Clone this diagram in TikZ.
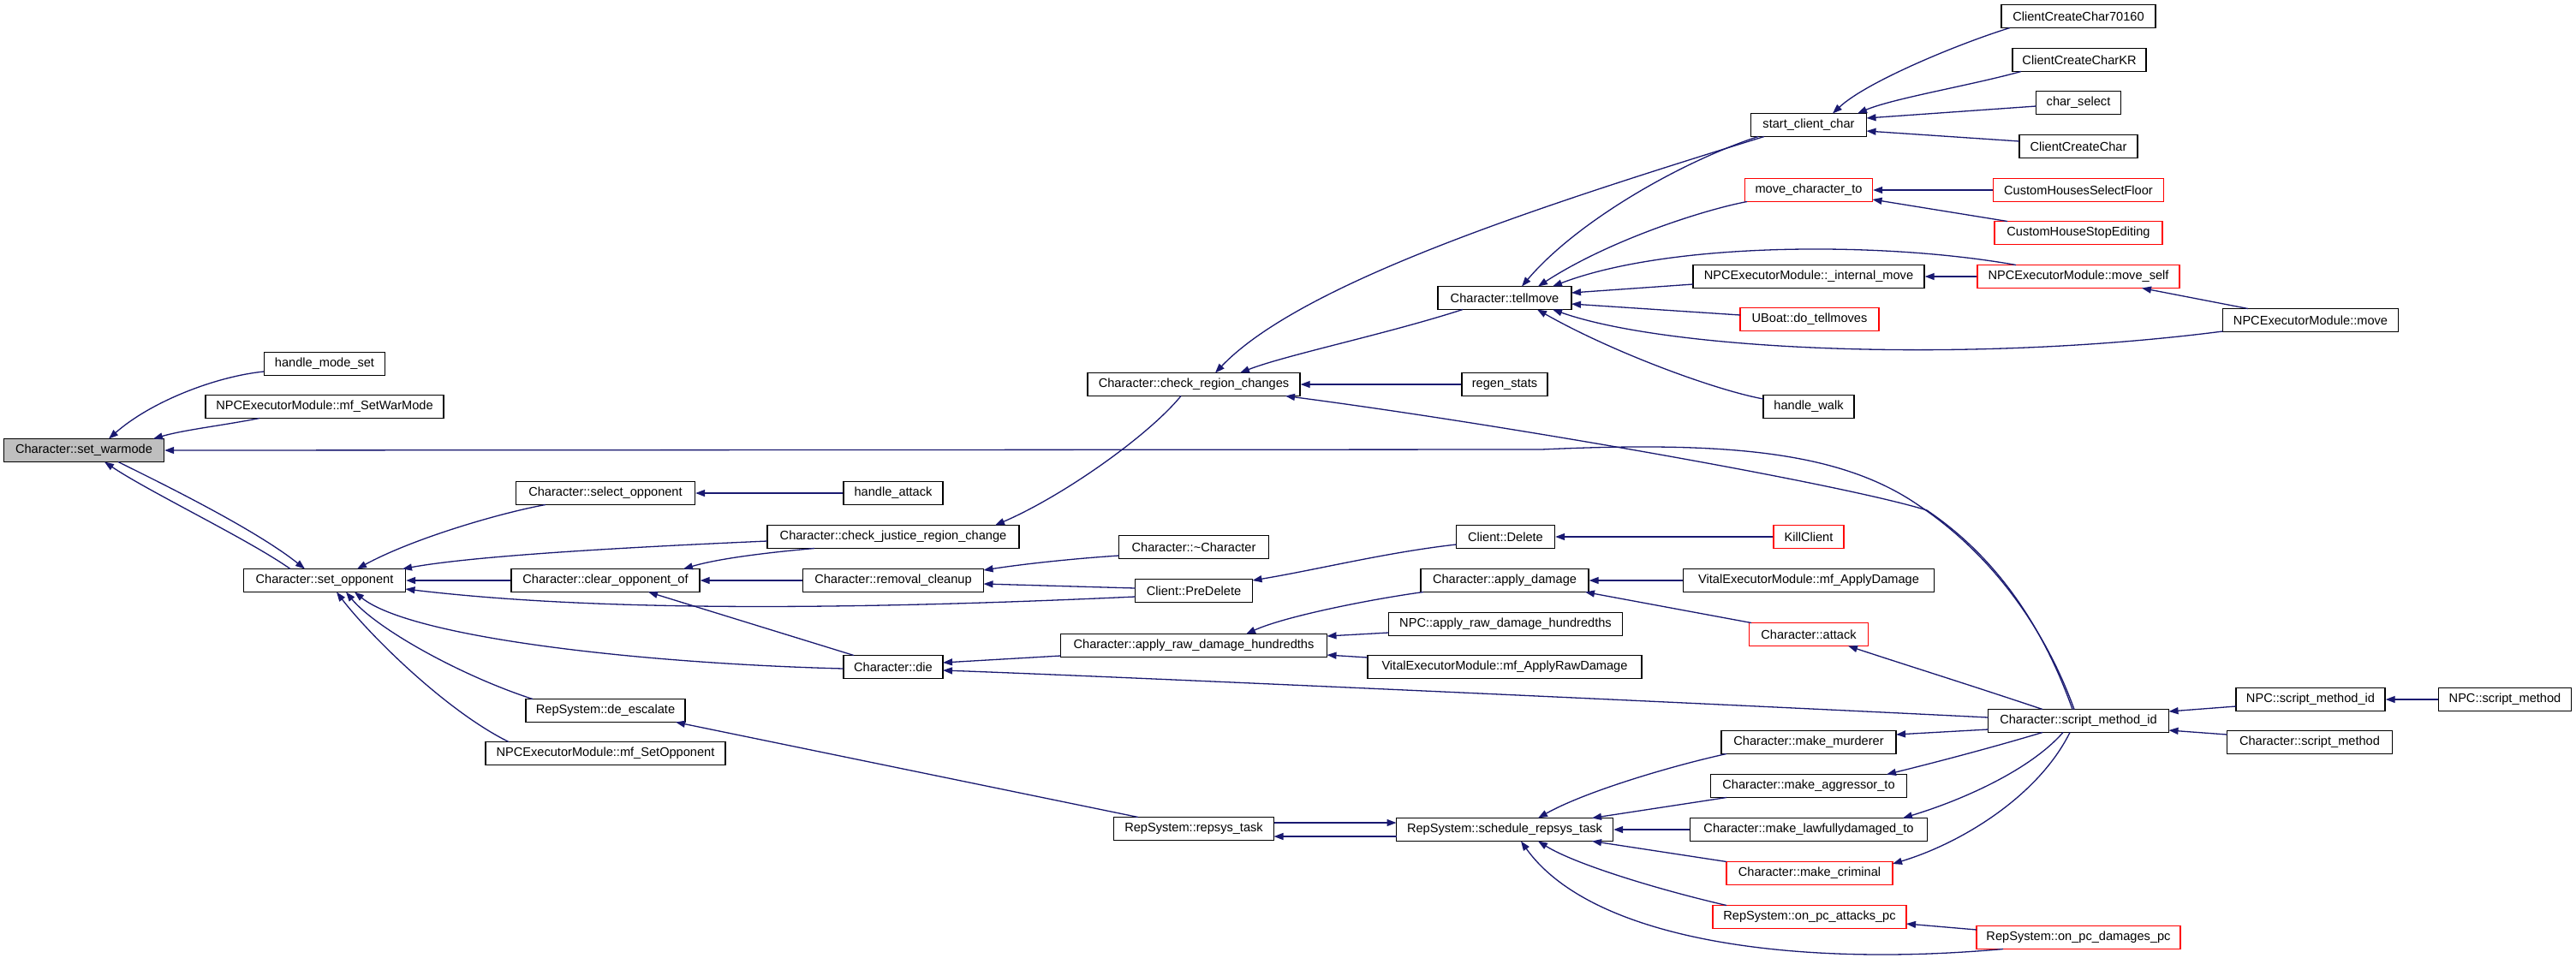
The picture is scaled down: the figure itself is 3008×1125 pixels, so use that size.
\documentclass[tikz,border=0pt]{standalone}
\usepackage{fontspec}
\setmainfont{Liberation Sans}
\usetikzlibrary{calc,arrows.meta}
\definecolor{edgeblue}{HTML}{191970}
\definecolor{selgray}{HTML}{BFBFBF}
\tikzset{
  box/.style={draw=black, line width=1.3pt, minimum height=27pt, inner sep=0pt, font=\fontsize{14.6}{17}\selectfont},
  redbox/.style={box, draw=red},
  call/.style={draw=edgeblue, line width=1.3pt, -{Triangle[length=11pt,width=8pt]}}
}
\begin{document}
\begin{tikzpicture}[x=1pt,y=-1pt]
\fill[white] (0,0) rectangle (3008,1125);
\useasboundingbox (0,0) rectangle (3008,1125);
% nodes
\node[box,fill=selgray,minimum width=187pt] (sw) at (98,526) {Character::set\_warmode};
\node[box,minimum width=141pt] (hms) at (379,425) {handle\_mode\_set};
\node[box,minimum width=278pt] (swm) at (379,475) {NPCExecutorModule::mf\_SetWarMode};
\node[box,minimum width=189pt] (so) at (379,678) {Character::set\_opponent};
\node[box,minimum width=209pt] (sel) at (707,576) {Character::select\_opponent};
\node[box,minimum width=220pt] (clr) at (707,678) {Character::clear\_opponent\_of};
\node[box,minimum width=186pt] (dee) at (707,830) {RepSystem::de\_escalate};
\node[box,minimum width=280pt] (mso) at (707,880) {NPCExecutorModule::mf\_SetOpponent};
\node[box,minimum width=116pt] (ha) at (1043,576) {handle\_attack};
\node[box,minimum width=294pt] (cjr) at (1043,627) {Character::check\_justice\_region\_change};
\node[box,minimum width=211pt] (rc) at (1043,678) {Character::removal\_cleanup};
\node[box,minimum width=116pt] (die) at (1043,779) {Character::die};
\node[box,minimum width=248pt] (crc) at (1394,449) {Character::check\_region\_changes};
\node[box,minimum width=175pt] (dtor) at (1394,639) {Character::\textasciitilde Character};
\node[box,minimum width=137pt] (pd) at (1394,690) {Client::PreDelete};
\node[box,minimum width=311pt] (ard) at (1394,754) {Character::apply\_raw\_damage\_hundredths};
\node[box,minimum width=187pt] (rt) at (1394,968) {RepSystem::repsys\_task};
\node[box,minimum width=156pt] (tm) at (1757,348) {Character::tellmove};
\node[box,minimum width=100pt] (rs) at (1757,449) {regen\_stats};
\node[box,minimum width=115pt] (cd) at (1758,627) {Client::Delete};
\node[box,minimum width=196pt] (ad) at (1757,678) {Character::apply\_damage};
\node[box,minimum width=273pt] (nard) at (1758,729) {NPC::apply\_raw\_damage\_hundredths};
\node[box,minimum width=320pt] (mard) at (1757,779) {VitalExecutorModule::mf\_ApplyRawDamage};
\node[box,minimum width=253pt] (srt) at (1757,969) {RepSystem::schedule\_repsys\_task};
\node[box,minimum width=135pt] (scc) at (2112,146) {start\_client\_char};
\node[redbox,minimum width=149pt] (mct) at (2112,222) {move\_character\_to};
\node[box,minimum width=270pt] (im) at (2112,323) {NPCExecutorModule::\_internal\_move};
\node[redbox,minimum width=162pt] (ub) at (2113,373) {UBoat::do\_tellmoves};
\node[box,minimum width=106pt] (hw) at (2112,475) {handle\_walk};
\node[redbox,minimum width=82pt] (kc) at (2112,627) {KillClient};
\node[box,minimum width=293pt] (mad) at (2112,678) {VitalExecutorModule::mf\_ApplyDamage};
\node[redbox,minimum width=139pt] (att) at (2112,741) {Character::attack};
\node[box,minimum width=204pt] (mm) at (2112,867) {Character::make\_murderer};
\node[box,minimum width=229pt] (mat) at (2112,918) {Character::make\_aggressor\_to};
\node[box,minimum width=277pt] (mlt) at (2112,969) {Character::make\_lawfullydamaged\_to};
\node[redbox,minimum width=194pt] (mc) at (2113,1020) {Character::make\_criminal};
\node[redbox,minimum width=226pt] (opa) at (2113,1071) {RepSystem::on\_pc\_attacks\_pc};
\node[box,minimum width=180pt] (c70) at (2427,19) {ClientCreateChar70160};
\node[box,minimum width=156pt] (ckr) at (2428,70) {ClientCreateCharKR};
\node[box,minimum width=99pt] (cs) at (2427,120) {char\_select};
\node[box,minimum width=138pt] (cc) at (2427,171) {ClientCreateChar};
\node[redbox,minimum width=199pt] (chsf) at (2427,222) {CustomHousesSelectFloor};
\node[redbox,minimum width=196pt] (chse) at (2427,272) {CustomHouseStopEditing};
\node[redbox,minimum width=236pt] (ms) at (2427,323) {NPCExecutorModule::move\_self};
\node[box,minimum width=211pt] (smi) at (2427,842) {Character::script\_method\_id};
\node[redbox,minimum width=238pt] (opd) at (2427,1095) {RepSystem::on\_pc\_damages\_pc};
\node[box,minimum width=205pt] (nm) at (2698,374) {NPCExecutorModule::move};
\node[box,minimum width=174pt] (nsmi) at (2698,817) {NPC::script\_method\_id};
\node[box,minimum width=193pt] (csm) at (2697,867) {Character::script\_method};
\node[box,minimum width=155pt] (nsm) at (2925,817) {NPC::script\_method};
% edges (caller -> callee)
\draw[call] ($(hms.center)+(-71,9)$) .. controls (250,440) and (175,470) .. ($(sw.center)+(29,-13.5)$);
\draw[call] ($(swm.center)+(-76,13.5)$) .. controls (260,497) and (215,502) .. ($(sw.center)+(81,-13.5)$);
\draw[call] ($(smi.center)+(-5,-13.5)$) .. controls (2390,740) and (2330,650) .. (2240,590) .. controls (2150,528) and (2020,515) .. (1800,525) -- (sw.east);
\draw[call] ($(smi.center)+(-7,-13.5)$) .. controls (2385,730) and (2330,650) .. (2250,596) .. controls (2150,565) and (1750,495) .. ($(crc.center)+(107,13.5)$);
\draw[call] ($(so.center)+(-40,-13.5)$) .. controls (290,630) and (175,575) .. ($(sw.center)+(24,13.5)$);
\draw[call] ($(sw.center)+(40,13.5)$) .. controls (200,570) and (300,620) .. ($(so.center)+(-23,-13.5)$);
\draw[call] ($(sel.center)+(-70,13.5)$) .. controls (580,600) and (480,630) .. ($(so.center)+(38,-13.5)$);
\draw[call] ($(cjr.center)+(-147,5)$) .. controls (760,638) and (560,648) .. ($(so.center)+(91,-13.5)$);
\draw[call] (clr.west) -- (so.east);
\draw[call] ($(pd.center)+(-68.5,7)$) .. controls (1000,712) and (700,715) .. ($(so.center)+(94.5,10)$);
\draw[call] ($(die.center)+(-58,2)$) .. controls (750,775) and (480,745) .. ($(so.center)+(35,13.5)$);
\draw[call] ($(dee.center)+(-85,-13.5)$) .. controls (540,790) and (440,735) .. ($(so.center)+(25,13.5)$);
\draw[call] ($(mso.center)+(-113,-13.5)$) .. controls (520,830) and (430,740) .. ($(so.center)+(14,13.5)$);
\draw[call] ($(cjr.center)+(-92,13.5)$) .. controls (900,645) and (840,652) .. ($(clr.center)+(91,-13.5)$);
\draw[call] (rc.west) -- (clr.east);
\draw[call] ($(die.center)+(-46,-13.5)$) -- ($(clr.center)+(50,13.5)$);
\draw[call] (ha.west) -- (sel.east);
\draw[call] ($(crc.center)+(-15,13.5)$) .. controls (1340,510) and (1240,580) .. ($(cjr.center)+(119,-13.5)$);
\draw[call] ($(dtor.center)+(-87.5,10)$) .. controls (1260,652) and (1200,658) .. ($(rc.center)+(105.5,-12)$);
\draw[call] ($(pd.center)+(-68.5,-3)$) -- ($(rc.center)+(105.5,4)$);
\draw[call] ($(ard.center)+(-155.5,12)$) -- ($(die.center)+(58,-5)$);
\draw[call] ($(smi.center)+(-105.5,-4)$) .. controls (2000,822) and (1300,790) .. ($(die.center)+(58,4)$);
\draw[call] ($(rt.center)+(-65,-13.5)$) -- ($(dee.center)+(82,13.5)$);
\draw[call] ($(scc.center)+(-52,13.5)$) .. controls (1800,240) and (1520,330) .. ($(crc.center)+(25,-13.5)$);
\draw[call] ($(tm.center)+(-49,13.5)$) .. controls (1620,390) and (1500,415) .. ($(crc.center)+(54,-13.5)$);
\draw[call] (rs.west) -- (crc.east);
\draw[call] ($(scc.center)+(-59,13.5)$) .. controls (1960,190) and (1840,260) .. ($(tm.center)+(20,-13.5)$);
\draw[call] ($(mct.center)+(-72,13.5)$) .. controls (1990,245) and (1880,280) .. ($(tm.center)+(39,-13.5)$);
\draw[call] ($(ms.center)+(-73,-13.5)$) .. controls (2200,282) and (1950,282) .. ($(tm.center)+(56,-13.5)$);
\draw[call] ($(im.center)+(-135,9)$) -- ($(tm.center)+(78,-6)$);
\draw[call] ($(ub.center)+(-81,-5)$) -- ($(tm.center)+(78,7)$);
\draw[call] ($(nm.center)+(-102.5,13)$) .. controls (2300,425) and (1950,410) .. ($(tm.center)+(56,13.5)$);
\draw[call] ($(hw.center)+(-53,-9)$) .. controls (2000,455) and (1880,410) .. ($(tm.center)+(38,13.5)$);
\draw[call] ($(c70.center)+(-80,13.5)$) .. controls (2290,50) and (2180,95) .. ($(scc.center)+(28,-13.5)$);
\draw[call] ($(ckr.center)+(-68,13.5)$) .. controls (2300,100) and (2210,115) .. ($(scc.center)+(57,-13.5)$);
\draw[call] ($(cs.center)+(-49.5,4)$) -- ($(scc.center)+(67.5,-8)$);
\draw[call] ($(cc.center)+(-69,-6)$) -- ($(scc.center)+(67.5,7)$);
\draw[call] (chsf.west) -- (mct.east);
\draw[call] ($(chse.center)+(-83,-13.5)$) -- ($(mct.center)+(74.5,11)$);
\draw[call] (ms.west) -- (im.east);
\draw[call] ($(nm.center)+(-73,-13.5)$) -- ($(ms.center)+(74,13.5)$);
\draw[call] ($(cd.center)+(-57.5,9)$) .. controls (1620,645) and (1540,665) .. ($(pd.center)+(68.5,-12)$);
\draw[call] (kc.west) -- (cd.east);
\draw[call] ($(ad.center)+(-95,13.5)$) .. controls (1600,700) and (1500,720) .. ($(ard.center)+(61,-13.5)$);
\draw[call] ($(nard.center)+(-136.5,10)$) -- ($(ard.center)+(155.5,-11)$);
\draw[call] ($(mard.center)+(-160,-11)$) -- ($(ard.center)+(155.5,11)$);
\draw[call] (mad.west) -- (ad.east);
\draw[call] ($(att.center)+(-67,-13.5)$) -- ($(ad.center)+(94,13.5)$);
\draw[call] ($(smi.center)+(-42,-13.5)$) .. controls (2300,800) and (2220,775) .. ($(att.center)+(46,13.5)$);
\draw[call] ($(smi.center)+(-105.5,10)$) -- ($(mm.center)+(102,-9)$);
\draw[call] ($(smi.center)+(-42,13.5)$) .. controls (2320,875) and (2250,893) .. ($(mat.center)+(91,-13.5)$);
\draw[call] ($(smi.center)+(-18,13.5)$) .. controls (2370,900) and (2290,935) .. ($(mlt.center)+(110,-13.5)$);
\draw[call] ($(smi.center)+(-10,13.5)$) .. controls (2380,930) and (2290,985) .. ($(mc.center)+(97,-11)$);
\draw[call] ($(mm.center)+(-96,13.5)$) .. controls (1950,895) and (1850,925) .. ($(srt.center)+(39,-13.5)$);
\draw[call] ($(mat.center)+(-96,13.5)$) -- ($(srt.center)+(102,-13.5)$);
\draw[call] (mlt.west) -- (srt.east);
\draw[call] ($(mc.center)+(-97,-13.5)$) -- ($(srt.center)+(102,13.5)$);
\draw[call] ($(opa.center)+(-97,-13.5)$) .. controls (1940,1040) and (1840,1010) .. ($(srt.center)+(39,13.5)$);
\draw[call] ($(opd.center)+(-88,13.5)$) .. controls (2100,1130) and (1860,1100) .. ($(srt.center)+(19,13.5)$);
\draw[call] ($(opd.center)+(-119,-9)$) -- ($(opa.center)+(113,8)$);
\draw[call] ($(rt.center)+(93.5,-7)$) -- ($(srt.center)+(-126.5,-8)$);
\draw[call] ($(srt.center)+(-126.5,8)$) -- ($(rt.center)+(93.5,9)$);
\draw[call] ($(nsmi.center)+(-87,8)$) -- ($(smi.center)+(105.5,-11)$);
\draw[call] ($(csm.center)+(-96.5,-9)$) -- ($(smi.center)+(105.5,11)$);
\draw[call] (nsm.west) -- (nsmi.east);
\end{tikzpicture}
\end{document}
